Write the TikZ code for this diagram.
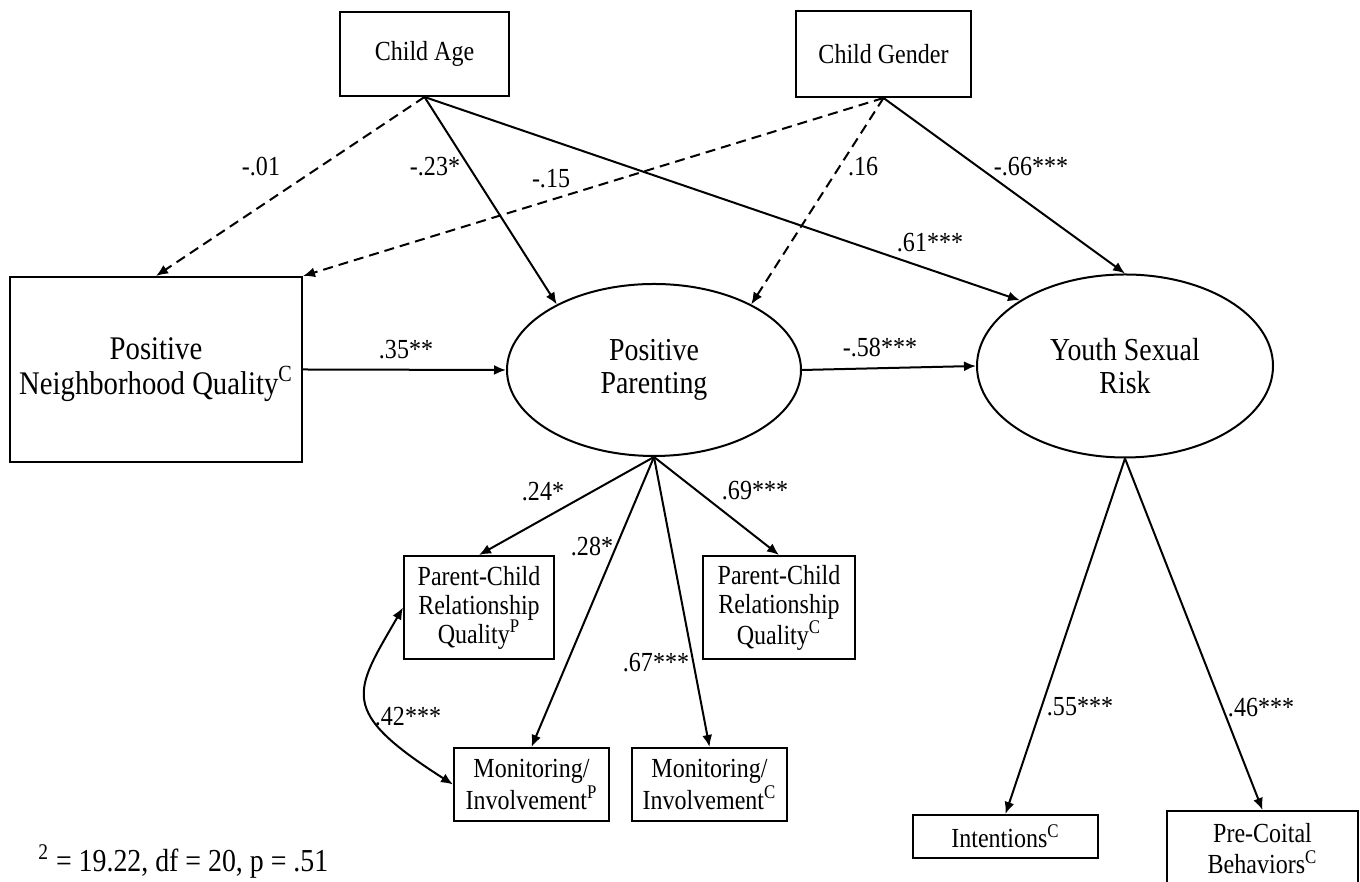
\documentclass[tikz,border=0pt]{standalone}
\usepackage{fontspec}
\setmainfont{Liberation Serif}[FakeStretch=0.87]
\usetikzlibrary{arrows.meta,shapes.geometric}

\begin{document}
\begin{tikzpicture}[
  x=0.5pt, y=0.5pt,
  every node/.style={font=\fontsize{13.8}{14.5}\selectfont},
  box/.style={draw, line width=1pt, align=center, inner sep=2pt},
  latent/.style={draw, ellipse, line width=1pt, align=center, inner sep=2pt,
    font=\fontsize{16}{16.5}\selectfont},
  lbl/.style={inner sep=1pt},
  eff/.style={line width=1pt, -{Latex[length=6pt,width=5pt]}},
  ns/.style={eff, dash pattern=on 5pt off 3pt}
]
\useasboundingbox (0,0) rectangle (1360,882);
\clip (0,0) rectangle (1360,882);

% covariates
\node[box, minimum width=84.5pt, minimum height=42pt] (age) at (424.5,828) {Child Age};
\node[box, minimum width=87.5pt, minimum height=43pt] (gender) at (883.5,828) {Child Gender};

% main constructs
\node[box, minimum width=146pt, minimum height=92.5pt, font=\fontsize{16.5}{17.5}\selectfont]
  (nbhd) at (156,512.5) {Positive\\Neighborhood Quality\textsuperscript{C}};
\node[latent, minimum width=147pt, minimum height=86pt] (par) at (654,512) {Positive\\Parenting};
\node[latent, minimum width=148pt, minimum height=91.5pt] (risk) at (1125,516) {Youth Sexual\\Risk};

% indicators
\node[box, minimum width=75pt, minimum height=51.5pt] (pcrqp) at (479,274.5)
  {Parent-Child\\Relationship\\Quality\textsuperscript{P}};
\node[box, minimum width=76pt, minimum height=51.5pt] (pcrqc) at (779,274.5)
  {Parent-Child\\Relationship\\Quality\textsuperscript{C}};
\node[box, minimum width=77.5pt, minimum height=36.5pt, font=\fontsize{13.8}{14}\selectfont]
  (monp) at (531.5,97.5) {Monitoring/\\Involvement\textsuperscript{P}};
\node[box, minimum width=77.5pt, minimum height=36.5pt, font=\fontsize{13.8}{14}\selectfont]
  (monc) at (709.5,97.5) {Monitoring/\\Involvement\textsuperscript{C}};
\node[box, minimum width=92.5pt, minimum height=21.5pt] (intent) at (1005.5,45.5) {Intentions\textsuperscript{C}};
\node[box, minimum width=95.5pt, minimum height=38pt, font=\fontsize{13.8}{15.5}\selectfont]
  (coital) at (1262.5,33) {Pre-Coital\\Behaviors\textsuperscript{C}};

% paths
\draw[ns] (age.south) -- (nbhd.north);
\draw[ns] (gender.south) -- (nbhd.north east);
\draw[eff] (age.south) -- (par.146);
\draw[eff] (age.south) -- (risk.148);
\draw[ns] (gender.south) -- (par.34);
\draw[eff] (gender.south) -- (risk.north);
\draw[eff] (nbhd.east) -- (par.west);
\draw[eff] (par.east) -- (risk.west);
\draw[eff] (par.south) -- (pcrqp.north);
\draw[eff] (par.south) -- (monp.north);
\draw[eff] (par.south) -- (monc.north);
\draw[eff] (par.south) -- (pcrqc.north);
\draw[eff] (risk.south) -- (intent.north);
\draw[eff] (risk.south) -- (coital.north);
\draw[eff, {Latex[length=6pt,width=5pt]}-{Latex[length=6pt,width=5pt]}]
  (pcrqp.west) .. controls +(-49,-85) and +(-116,74) .. (monp.west);

% coefficients
\node[lbl] (l1) at (261,715) {-.01};
\node[lbl] (l2) at (435,715) {-.23*};
\node[lbl] (l3) at (551,703) {-.15};
\node[lbl] (l4) at (863,715) {.16};
\node[lbl] (l5) at (1031,715) {-.66***};
\node[lbl] (l6) at (930,639) {.61***};
\node[lbl] (l7) at (406,532) {.35**};
\node[lbl] (l8) at (880,534) {-.58***};
\node[lbl] (l9) at (543,390) {.24*};
\node[lbl] (l10) at (755,391) {.69***};
\node[lbl] (l11) at (592,335) {.28*};
\node[lbl] (l12) at (656,219) {.67***};
\node[lbl] (l13) at (408,165) {.42***};
\node[lbl] (l14) at (1080,175) {.55***};
\node[lbl] (l15) at (1261,174) {.46***};

\node[anchor=base west, inner sep=0pt, font=\fontsize{16}{16}\selectfont] (fit) at (38,10)
  {\textsuperscript{2} = 19.22, df = 20, p = .51};
\end{tikzpicture}
\end{document}
